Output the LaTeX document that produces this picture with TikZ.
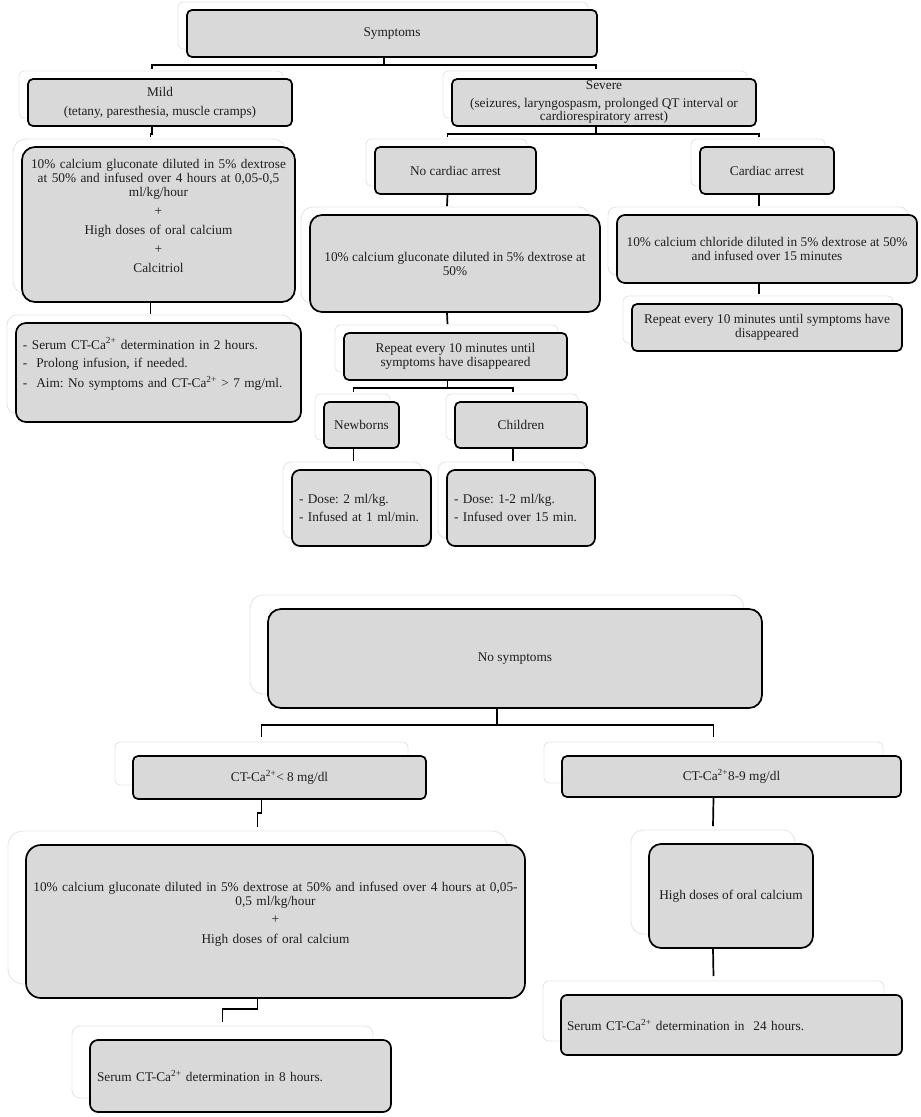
\documentclass[tikz,border=0pt]{standalone}
\usepackage{fontspec}
\setmainfont{Liberation Serif}
\frenchspacing
\definecolor{boxgray}{RGB}{217,217,217}
\definecolor{inkgray}{RGB}{30,30,30}
\begin{document}
\begin{tikzpicture}[x=1pt, y=-1pt,
		box/.style={draw=black, line width=1.7pt, fill=boxgray, rounded corners=5pt, align=center, inner sep=2pt, text=inkgray, font=\fontsize{13.3}{14}\selectfont, preaction={draw=black!10, line width=0.9pt, transform canvas={shift={(#1)}}}},
		box/.default={-9pt,8pt},
		note/.style={box={#1}, align=left, inner xsep=7pt},
		note/.default={-9pt,8pt},
		link/.style={draw=black, line width=1.7pt}]
		
		\useasboundingbox (0,0) rectangle (921,1117);
		
		%Symptoms
		\node[box, minimum width=410, minimum height=47] (symp) at (392,33.5) {Symptoms};
		\node[box, minimum width=264, minimum height=47] (mild) at (160,102.5) {Mild\\[5pt](tetany, paresthesia, muscle cramps)};
		\node[box, minimum width=304, minimum height=47, inner ysep=0pt] (severe) at (604,102.5) {Severe\\[4pt](seizures, laryngospasm, prolonged QT interval or\\[-1pt]cardiorespiratory arrest)};
		
		%Mild branch
		\node[box, rounded corners=13pt, text width=269, inner ysep=0pt, text height=21, text depth=134] (mildtx) at (158.5,224.5) {10\% calcium gluconate diluted in 5\% dextrose\\at 50\% and infused over 4 hours at 0,05-0,5\\ml/kg/hour\\[5pt]+\\[5pt]High doses of oral calcium\\[5pt]+\\[5pt]Calcitriol};
		\node[note, rounded corners=10pt, text width=271, inner ysep=0pt, text height=26, text depth=73] (mildchk) at (158.5,372.5) {- Serum CT-Ca\textsuperscript{2+} determination in 2 hours.\\[4.5pt]-\ \ Prolong infusion, if needed.\\[4.5pt]-\ \ Aim: No symptoms and CT-Ca\textsuperscript{2+} > 7 mg/ml.};
		
		%Severe branch
		\node[box, minimum width=161, minimum height=47] (nocard) at (455.5,170.5) {No cardiac arrest};
		\node[box, minimum width=134, minimum height=47] (card) at (767,170.5) {Cardiac arrest};
		\node[box, rounded corners=12pt, minimum width=290, minimum height=97] (nocardtx) at (455,263.5) {10\% calcium gluconate diluted in 5\% dextrose at\\50\%};
		\node[box, rounded corners=8pt, minimum width=300, minimum height=68] (cardtx) at (767,249) {10\% calcium chloride diluted in 5\% dextrose at 50\%\\and infused over 15 minutes};
		\node[box, minimum width=270, minimum height=47] (cardrep) at (767,327.5) {Repeat every 10 minutes until symptoms have\\disappeared};
		\node[box, minimum width=223, minimum height=47] (nocardrep) at (455.5,356.5) {Repeat every 10 minutes until\\symptoms have disappeared};
		\node[box, minimum width=75, minimum height=46] (newb) at (361.5,425) {Newborns};
		\node[box, minimum width=132, minimum height=46] (child) at (521,425) {Children};
		\node[note, rounded corners=8pt, text width=125, minimum height=76] (newbdose) at (361.5,508) {- Dose: 2 ml/kg.\\[3.5pt]- Infused at 1 ml/min.};
		\node[note, rounded corners=8pt, text width=134, minimum height=76] (childdose) at (521,508) {- Dose: 1-2 ml/kg.\\[3.5pt]- Infused over 15 min.};
		
		%No symptoms
		\node[box={-18pt,14pt}, rounded corners=13pt, minimum width=494, minimum height=99] (nosymp) at (515,658.5) {No symptoms};
		\node[box={-18pt,14pt}, minimum width=293, minimum height=43] (low) at (279.5,777.5) {CT-Ca\textsuperscript{2+}< 8 mg/dl};
		\node[box={-18pt,14pt}, minimum width=339, minimum height=41] (mid) at (731.5,776.5) {CT-Ca\textsuperscript{2+}8-9 mg/dl};
		\node[box={-18pt,14pt}, rounded corners=15pt, text width=495, inner ysep=0pt, text height=46, text depth=107] (lowtx) at (275.5,921.5) {10\% calcium gluconate diluted in 5\% dextrose at 50\% and infused over 4 hours at 0,05-\\0,5 ml/kg/hour\\[4pt]+\\[6pt]High doses of oral calcium};
		\node[box={-18pt,14pt}, rounded corners=12pt, minimum width=164, minimum height=104] (midtx) at (731,896) {High doses of oral calcium};
		\node[note={-18pt,14pt}, rounded corners=8pt, text width=287, minimum height=72] (lowchk) at (240.5,1076) {Serum CT-Ca\textsuperscript{2+} determination in 8 hours.};
		\node[note={-18pt,14pt}, rounded corners=6pt, text width=329, inner xsep=6pt, minimum height=60] (midchk) at (731.5,1025) {Serum CT-Ca\textsuperscript{2+} determination in\ \ 24 hours.};
		
		%Connectors top
		\draw[link] ([xshift=-8pt]symp.south) -- ++(0,7) -| ([shift={(-8,-9)}]mild.north);
		\draw[link] ([xshift=-8pt]symp.south) -- ++(0,7) -| ([shift={(-8,-9)}]severe.north);
		\draw[link] ([xshift=-8pt]mild.south) -- ++(0,7) -| ([shift={(-8,-9)}]mildtx.north);
		\draw[link] ([xshift=-8pt]mildtx.south) -- ([shift={(-8,-8)}]mildchk.north);
		\draw[link] ([xshift=-8pt]severe.south) -- ++(0,7) -| ([shift={(-8,-9)}]nocard.north);
		\draw[link] ([xshift=-8pt]severe.south) -- ++(0,7) -| ([shift={(-8,-9)}]card.north);
		\draw[link] ([xshift=-8pt]nocard.south) -- ([shift={(-8,-8)}]nocardtx.north);
		\draw[link] ([xshift=-8pt]card.south) -- ([shift={(-8,-8)}]cardtx.north);
		\draw[link] ([xshift=-8pt]cardtx.south) -- ([shift={(-8,-9)}]cardrep.north);
		\draw[link] ([xshift=-8pt]nocardtx.south) -- ([shift={(-8,-8)}]nocardrep.north);
		\draw[link] ([xshift=-8pt]nocardrep.south) -- ++(0,7) -| ([shift={(-8,-9)}]newb.north);
		\draw[link] ([xshift=-8pt]nocardrep.south) -- ++(0,7) -| ([shift={(-8,-9)}]child.north);
		\draw[link] ([xshift=-8pt]newb.south) -- ([shift={(-8,-8)}]newbdose.north);
		\draw[link] ([xshift=-8pt]child.south) -- ([shift={(-8,-8)}]childdose.north);
		
		%Connectors bottom
		\draw[link] ([xshift=-18pt]nosymp.south) -- ++(0,16) -| ([shift={(-18,-18)}]low.north);
		\draw[link] ([xshift=-18pt]nosymp.south) -- ++(0,16) -| ([shift={(-18,-18)}]mid.north);
		\draw[link] ([xshift=-18pt]low.south) -- ++(0,13) -| ([shift={(-18,-17)}]lowtx.north);
		\draw[link] ([xshift=-18pt]mid.south) -- ([shift={(-18,-17)}]midtx.north);
		\draw[link] ([xshift=-18pt]lowtx.south) -- ++(0,10) -| ([shift={(-18,-17)}]lowchk.north);
		\draw[link] ([xshift=-18pt]midtx.south) -- ([shift={(-18,-18)}]midchk.north);
		
\end{tikzpicture}
\end{document}
